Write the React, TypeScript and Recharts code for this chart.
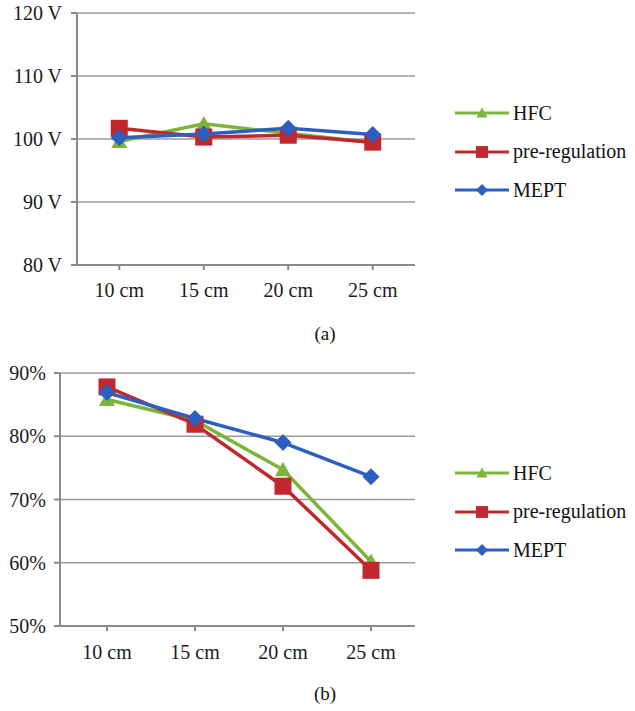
import React from 'react';
import { LineChart, Line, XAxis, YAxis, CartesianGrid, Legend } from 'recharts';

const categories = ['10 cm', '15 cm', '20 cm', '25 cm'];

const voltageHFC = [99.6, 102.4, 100.9, 99.4];
const voltagePre = [101.7, 100.3, 100.6, 99.5];
const voltageMEPT = [100.2, 100.8, 101.7, 100.7];
const voltageTicks = [80, 90, 100, 110, 120];

const effHFC = [85.8, 82.5, 74.7, 60.2];
const effPre = [87.8, 81.9, 72.1, 58.8];
const effMEPT = [86.9, 82.8, 79.0, 73.6];
const effTicks = [50, 60, 70, 80, 90];

const seriesNames = ['HFC', 'pre-regulation', 'MEPT'];
const seriesColors = ['#7DB53A', '#C0282D', '#2D5FC0'];
const seriesMarkers = ['triangle', 'square', 'diamond'];

const voltageData = categories.map((c, i) => ({
  name: c,
  HFC: voltageHFC[i],
  'pre-regulation': voltagePre[i],
  MEPT: voltageMEPT[i],
}));

const effData = categories.map((c, i) => ({
  name: c,
  HFC: effHFC[i],
  'pre-regulation': effPre[i],
  MEPT: effMEPT[i],
}));

const FONT = 'Liberation Serif';
const AXIS = '#8a8a8a';

function Marker({ type, cx, cy, color, scale = 1 }: any) {
  if (cx == null || cy == null) return null;
  if (type === 'triangle') {
    const s = 8 * scale;
    return (
      <polygon
        points={`${cx},${cy - s} ${cx + s},${cy + s * 0.8} ${cx - s},${cy + s * 0.8}`}
        fill={color}
      />
    );
  }
  if (type === 'square') {
    const s = 8.5 * scale;
    return <rect x={cx - s} y={cy - s} width={2 * s} height={2 * s} fill={color} />;
  }
  const s = 8.5 * scale;
  return (
    <polygon points={`${cx},${cy - s} ${cx + s},${cy} ${cx},${cy + s} ${cx - s},${cy}`} fill={color} />
  );
}

function LegendContent() {
  return (
    <div style={{ fontFamily: FONT, fontSize: 20, color: '#111' }}>
      {seriesNames.map((n, i) => (
        <div key={n} style={{ height: 38.5, display: 'flex', alignItems: 'center' }}>
          <svg width={56} height={20} style={{ display: 'block' }}>
            <line x1={0} y1={10} x2={54} y2={10} stroke={seriesColors[i]} strokeWidth={3} />
            <Marker type={seriesMarkers[i]} cx={27} cy={10} color={seriesColors[i]} scale={0.7} />
          </svg>
          <span style={{ marginLeft: 2, whiteSpace: 'nowrap' }}>{n}</span>
        </div>
      ))}
    </div>
  );
}

function renderLines() {
  return seriesNames.map((n, i) => (
    <Line
      key={n}
      dataKey={n}
      name={n}
      stroke={seriesColors[i]}
      strokeWidth={3.5}
      isAnimationActive={false}
      dot={(p: any) => (
        <Marker key={`${n}-${p.index}`} type={seriesMarkers[i]} cx={p.cx} cy={p.cy} color={seriesColors[i]} />
      )}
      activeDot={false}
    />
  ));
}

const tickStyle = { fill: '#1a1a1a', fontSize: 20, fontFamily: FONT };

export default function App() {
  return (
    <div style={{ position: 'absolute', left: 0, top: 0, width: 635, height: 711, background: '#fff' }}>
      <div style={{ position: 'absolute', left: 0, top: 0 }}>
        <LineChart width={635} height={300} data={voltageData} margin={{ top: 13, right: 220, bottom: 0, left: 0 }}>
          <CartesianGrid vertical={false} stroke="#9a9a9a" strokeWidth={1.5} />
          <XAxis
            dataKey="name"
            scale="band"
            height={35}
            tick={tickStyle}
            tickSize={5}
            tickMargin={13}
            stroke={AXIS}
            strokeWidth={2}
            tickLine={{ stroke: AXIS }}
            interval={0}
          />
          <YAxis
            width={77}
            domain={[80, 120]}
            ticks={voltageTicks}
            tickFormatter={(v: number) => `${v} V`}
            tick={tickStyle}
            tickSize={6}
            tickMargin={9}
            stroke={AXIS}
            strokeWidth={2}
            tickLine={{ stroke: AXIS }}
            allowDataOverflow
          />
          <Legend
            layout="vertical"
            align="center"
            verticalAlign="middle"
            content={<LegendContent />}
            wrapperStyle={{ left: 455, top: 94, width: 180 }}
          />
          {renderLines()}
        </LineChart>
      </div>
      <div
        style={{
          position: 'absolute',
          left: 0,
          width: 650,
          top: 323,
          textAlign: 'center',
          fontFamily: FONT,
          fontSize: 19,
          color: '#111',
        }}
      >
        (a)
      </div>
      <div style={{ position: 'absolute', left: 0, top: 360 }}>
        <LineChart width={635} height={340} data={effData} margin={{ top: 13, right: 220, bottom: 39, left: 0 }}>
          <CartesianGrid vertical={false} stroke="#9a9a9a" strokeWidth={1.5} />
          <XAxis
            dataKey="name"
            scale="band"
            height={35}
            tick={tickStyle}
            tickSize={5}
            tickMargin={14}
            stroke={AXIS}
            strokeWidth={2}
            tickLine={{ stroke: AXIS }}
            interval={0}
            padding={{ left: 3, right: 0 }}
          />
          <YAxis
            width={60}
            domain={[50, 90]}
            ticks={effTicks}
            tickFormatter={(v: number) => `${v}%`}
            tick={tickStyle}
            tickSize={6}
            tickMargin={8}
            stroke={AXIS}
            strokeWidth={2}
            tickLine={{ stroke: AXIS }}
            allowDataOverflow
          />
          <Legend
            layout="vertical"
            align="center"
            verticalAlign="middle"
            content={<LegendContent />}
            wrapperStyle={{ left: 455, top: 94, width: 180 }}
          />
          {renderLines()}
        </LineChart>
      </div>
      <div
        style={{
          position: 'absolute',
          left: 0,
          width: 650,
          top: 683,
          textAlign: 'center',
          fontFamily: FONT,
          fontSize: 19,
          color: '#111',
        }}
      >
        (b)
      </div>
    </div>
  );
}
